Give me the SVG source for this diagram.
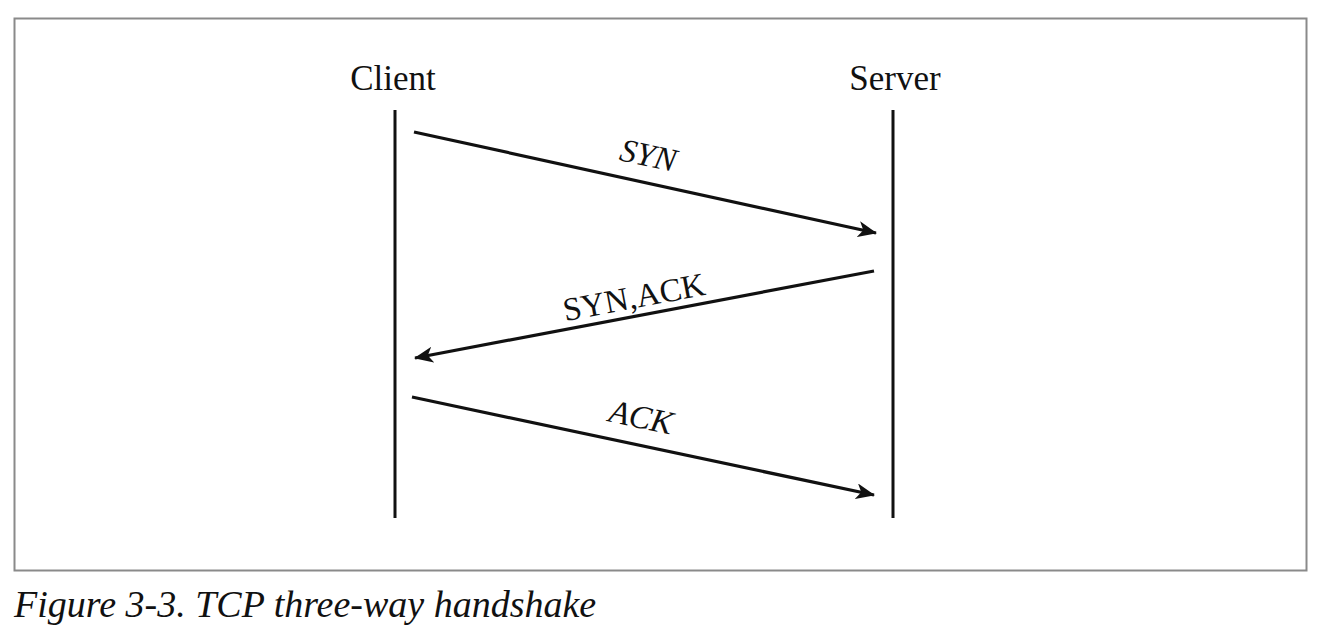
<svg xmlns="http://www.w3.org/2000/svg" width="1324" height="638" viewBox="0 0 1324 638">
<defs>
<style>
.lbl{font-family:"Liberation Serif",serif;font-size:35px;fill:#111}
.msgl{font-family:"Liberation Serif",serif;font-size:33px;fill:#111}
.it{font-style:italic}
.life{stroke:#111;stroke-width:3;fill:none}
.msg{stroke:#111;stroke-width:3.2;fill:none;marker-end:url(#ah)}
</style>
<marker id="ah" viewBox="0 0 20 16" refX="18" refY="8" markerWidth="20" markerHeight="16" markerUnits="userSpaceOnUse" orient="auto">
<path d="M0,0 L19,8 L0,16 L5,8 Z" fill="#111"/>
</marker>
</defs>
<rect x="0" y="0" width="1324" height="638" fill="#fff"/>
<rect x="14.5" y="18.5" width="1292" height="552" fill="none" stroke="#8a8a8a" stroke-width="2"/>
<g id="client">
<text class="lbl" x="393" y="90" text-anchor="middle">Client</text>
<line class="life" x1="395" y1="110" x2="395" y2="518"/>
</g>
<g id="server">
<text class="lbl" x="895" y="90" text-anchor="middle">Server</text>
<line class="life" x1="893" y1="110" x2="893" y2="518"/>
</g>
<g id="connectors">
<line class="msg" x1="414" y1="132" x2="876" y2="233"/>
<text class="msgl it" transform="translate(646,166) rotate(12.3)" text-anchor="middle">SYN</text>
<line class="msg" x1="874" y1="271" x2="415" y2="358"/>
<text class="msgl" transform="translate(636,308) rotate(-10.7)" text-anchor="middle">SYN,ACK</text>
<line class="msg" x1="412" y1="397" x2="874" y2="495"/>
<text class="msgl it" transform="translate(639,428) rotate(12)" text-anchor="middle">ACK</text>
</g>
<text class="lbl it" x="14" y="617" style="font-size:38px">Figure 3-3. TCP three-way handshake</text>
</svg>
